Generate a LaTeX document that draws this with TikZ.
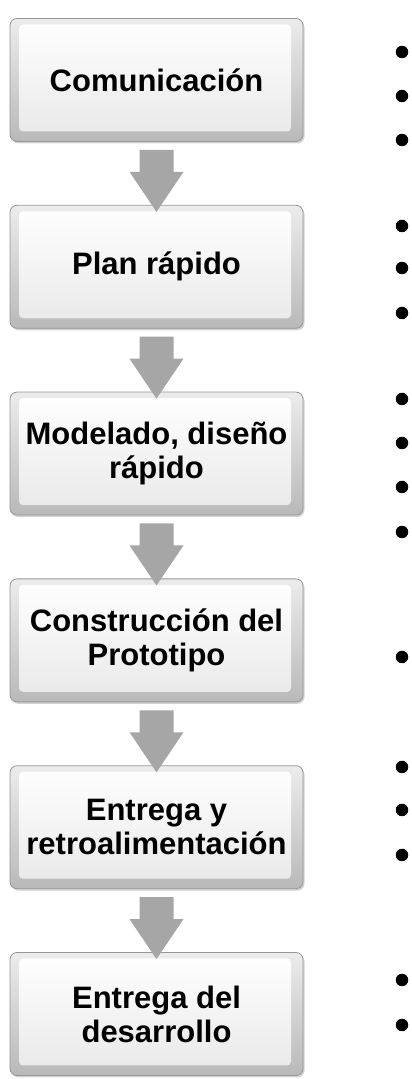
\documentclass[tikz,border=0pt]{standalone}
\usepackage{fontspec}
\setmainfont{Liberation Sans}
\usetikzlibrary{calc,shadows}
\definecolor{arrowgray}{RGB}{166,166,166}
\definecolor{edgegray}{RGB}{150,150,150}
\tikzset{
  stepbox/.style={
    rounded corners=7pt, draw=edgegray, line width=0.8pt,
    top color=gray!15, bottom color=gray!55,
    minimum width=293pt, minimum height=123pt, inner sep=0pt,
    align=center, font=\fontsize{31}{34}\selectfont\bfseries,
    drop shadow={shadow xshift=1.5pt, shadow yshift=-2pt, opacity=0.35, fill=gray},
    path picture={
      \shade[top color=white, bottom color=gray!18, rounded corners=4pt]
        ([shift={(9pt,-6pt)}]path picture bounding box.north west) rectangle
        ([shift={(-12pt,10pt)}]path picture bounding box.south east);
    }
  },
  bul/.style={circle, fill=black, minimum size=12.5pt, inner sep=0pt}
}
\newcommand{\downarrowshape}[2]{%
  \fill[arrowgray]
    ($(#1.south)+(-17pt,-8pt)$) -- ($(#1.south)+(17pt,-8pt)$) --
    ($(#1.south)+(17pt,-30pt)$) -- ($(#1.south)+(27pt,-30pt)$) --
    ($(#2.north)+(0pt,-7pt)$) --
    ($(#1.south)+(-27pt,-30pt)$) -- ($(#1.south)+(-17pt,-30pt)$) -- cycle;}
\begin{document}
\begin{tikzpicture}[x=1pt,y=1pt]
\useasboundingbox (0,0) rectangle (412,1079);
\node[stepbox] (b1) at (156.5,999) {Comunicación};
\node[stepbox] (b2) at (156.5,812.2) {Plan rápido};
\node[stepbox] (b3) at (156.5,625.4) {Modelado, diseño\\rápido};
\node[stepbox] (b4) at (156.5,438.6) {Construcción del\\Prototipo};
\node[stepbox] (b5) at (156.5,251.8) {Entrega y\\retroalimentación};
\node[stepbox] (b6) at (156.5,65) {Entrega del\\desarrollo};
\downarrowshape{b1}{b2}
\downarrowshape{b2}{b3}
\downarrowshape{b3}{b4}
\downarrowshape{b4}{b5}
\downarrowshape{b5}{b6}
% bullets
\node[bul] (d1) at (402,1027) {};
\node[bul] (d2) at (402,983) {};
\node[bul] (d3) at (402,939) {};
\node[bul] (d4) at (402,853) {};
\node[bul] (d5) at (402,811) {};
\node[bul] (d6) at (402,766) {};
\node[bul] (d7) at (402,680) {};
\node[bul] (d8) at (402,636) {};
\node[bul] (d9) at (402,592) {};
\node[bul] (d10) at (402,547) {};
\node[bul] (d11) at (402,422) {};
\node[bul] (d12) at (402,312) {};
\node[bul] (d13) at (402,269) {};
\node[bul] (d14) at (402,224) {};
\node[bul] (d15) at (402,99) {};
\node[bul] (d16) at (402,54) {};
\end{tikzpicture}
\end{document}
